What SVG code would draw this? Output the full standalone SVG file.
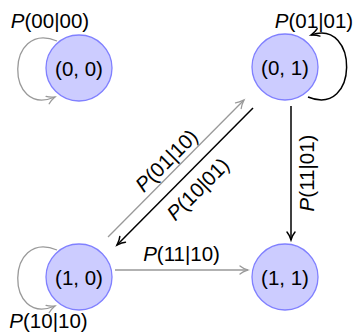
<svg xmlns="http://www.w3.org/2000/svg" width="355" height="332" viewBox="0 0 355 332">
<style>
.node circle{fill:#ccccff;stroke:#8080ff;stroke-width:1.3}
.nl{font-family:"Liberation Sans",Arial,sans-serif;font-size:20.5px;text-anchor:middle;fill:#000}
.el{font-family:"Liberation Sans",Arial,sans-serif;font-size:20.5px;text-anchor:middle;fill:#000}
.it{font-style:italic}
.g{fill:none;stroke:#999999;stroke-width:1.3}
.k{fill:none;stroke:#000;stroke-width:1.5}
</style>
<defs>
<marker id="ag" markerUnits="userSpaceOnUse" viewBox="-10 -6 12 12" refX="0" refY="0" markerWidth="12" markerHeight="12" orient="auto" overflow="visible">
<path d="M -8,-4 C -5,-1.5 -1.5,-0.5 0,0 C -1.5,0.5 -5,1.5 -8,4" fill="none" stroke="#999999" stroke-width="1.3" stroke-linecap="round"/>
</marker>
<marker id="ak" markerUnits="userSpaceOnUse" viewBox="-10 -6 12 12" refX="0" refY="0" markerWidth="12" markerHeight="12" orient="auto" overflow="visible">
<path d="M -8,-4 C -5,-1.5 -1.5,-0.5 0,0 C -1.5,0.5 -5,1.5 -8,4" fill="none" stroke="#000" stroke-width="1.5" stroke-linecap="round"/>
</marker>
</defs>
<g id="connectors">
<path class="g" d="M 57,41 C 5,20 5,118 55,97" marker-end="url(#ag)"/>
<path class="g" d="M 57,250 C 5,229 5,327 55,306" marker-end="url(#ag)"/>
<path class="k" d="M 308,97 C 359,118 359,18 311,35" marker-end="url(#ak)"/>
<path class="k" d="M 291,106 L 291,240" marker-end="url(#ak)"/>
<path class="g" d="M 115,270 L 248,270" marker-end="url(#ag)"/>
<path class="g" d="M 108,237 L 244,100" marker-end="url(#ag)"/>
<path class="k" d="M 253,108 L 117,245" marker-end="url(#ak)"/>
<text class="el" x="50" y="28"><tspan class="it">P</tspan>(00|00)</text>
<text class="el" x="314" y="28"><tspan class="it">P</tspan>(01|01)</text>
<text class="el" x="48.5" y="327.5"><tspan class="it">P</tspan>(10|10)</text>
<text class="el" x="181.5" y="261"><tspan class="it">P</tspan>(11|10)</text>
<text class="el" transform="translate(313.5,173) rotate(-90)"><tspan class="it">P</tspan>(11|01)</text>
<text class="el" transform="translate(171.5,165.5) rotate(-45)"><tspan class="it">P</tspan>(01|10)</text>
<text class="el" transform="translate(203,194) rotate(-45)"><tspan class="it">P</tspan>(10|01)</text>
</g>
<g id="n00" class="node"><circle cx="79" cy="68" r="33"/><text class="nl" x="79" y="75.5">(0, 0)</text></g>
<g id="n01" class="node"><circle cx="285" cy="67" r="33"/><text class="nl" x="285" y="74.5">(0, 1)</text></g>
<g id="n10" class="node"><circle cx="79" cy="277" r="33"/><text class="nl" x="79" y="284.5">(1, 0)</text></g>
<g id="n11" class="node"><circle cx="285" cy="277" r="33"/><text class="nl" x="285" y="284.5">(1, 1)</text></g>
</svg>
